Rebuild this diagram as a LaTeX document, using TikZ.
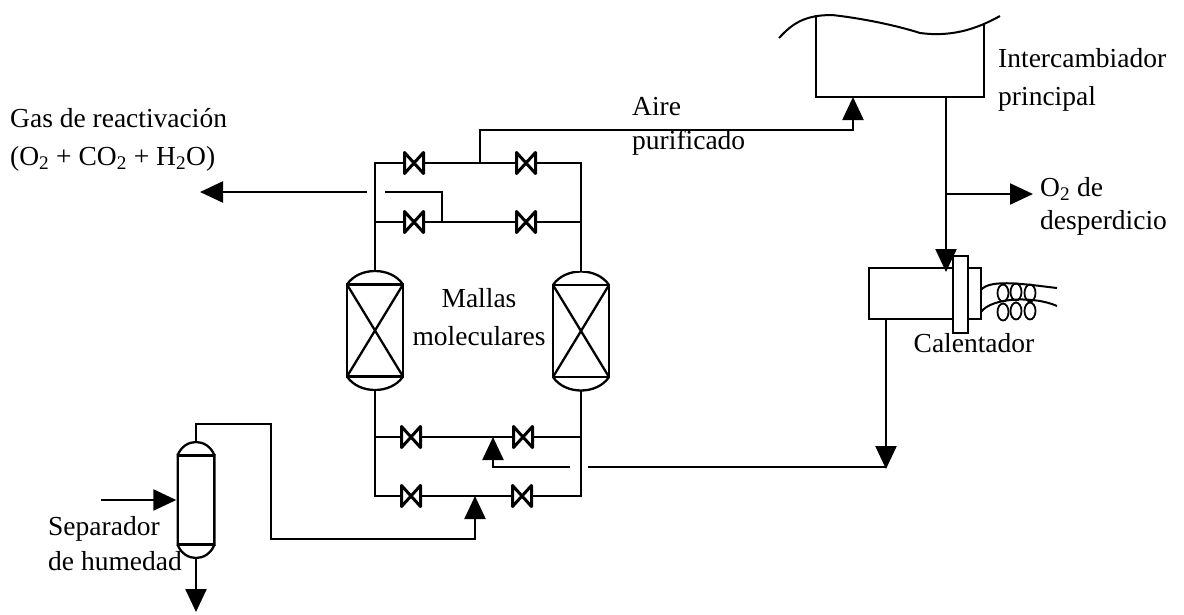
\documentclass[tikz,border=0pt]{standalone}
\usepackage{fontspec}
\setmainfont{Liberation Serif}
\usetikzlibrary{positioning, arrows.meta, calc}
\newcommand{\drumbody}[1]{%
    \draw[pipe] ([shift={(1pt,-14pt)}]path picture bounding box.north west) rectangle ([shift={(-1pt,14pt)}]path picture bounding box.south east);
    \draw[pipe] ([shift={(1pt,-14pt)}]path picture bounding box.north west) .. controls ([shift={(#1,4pt)}]path picture bounding box.north west) and ([shift={(-#1,4pt)}]path picture bounding box.north east) .. ([shift={(-1pt,-14pt)}]path picture bounding box.north east);
    \draw[pipe] ([shift={(1pt,14pt)}]path picture bounding box.south west) .. controls ([shift={(#1,-4pt)}]path picture bounding box.south west) and ([shift={(-#1,-4pt)}]path picture bounding box.south east) .. ([shift={(-1pt,14pt)}]path picture bounding box.south east);}
\tikzset{
  pipe/.style={line width=2.3pt, line join=miter},
  flow/.style={pipe, -{Triangle[length=23pt, width=21pt]}},
  lbl/.style={font=\fontsize{27.5}{38}\selectfont, inner sep=0pt, align=left, anchor=west},
  valve/.style={minimum width=22pt, minimum height=24pt, inner sep=0pt, path picture={
    \draw[line width=3pt, line join=round] ([shift={(1.5pt,-1.5pt)}]path picture bounding box.north west) -- ([shift={(-1.5pt,1.5pt)}]path picture bounding box.south east) -- ([shift={(-1.5pt,-1.5pt)}]path picture bounding box.north east) -- ([shift={(1.5pt,1.5pt)}]path picture bounding box.south west) -- cycle;}},
  drum/.style={inner sep=0pt, minimum width=39pt, minimum height=117pt, path picture={\drumbody{8pt}}},
  vessel/.style={inner sep=0pt, minimum width=58pt, minimum height=120pt, path picture={
    \drumbody{13pt}
    \draw[pipe] ([shift={(1pt,-14pt)}]path picture bounding box.north west) -- ([shift={(-1pt,14pt)}]path picture bounding box.south east);
    \draw[pipe] ([shift={(-1pt,-14pt)}]path picture bounding box.north east) -- ([shift={(1pt,14pt)}]path picture bounding box.south west);}}
}
\begin{document}
\begin{tikzpicture}[x=1pt, y=-1pt]
  \useasboundingbox (0,0) rectangle (1184,614);
  % valves
  \node[valve] (v11) at (414,163) {};
  \node[valve] (v12) at (526,163) {};
  \node[valve] (v21) at (414,222) {};
  \node[valve] (v22) at (526,222) {};
  \node[valve] (v31) at (411,437) {};
  \node[valve] (v32) at (523,437) {};
  \node[valve] (v41) at (411,496) {};
  \node[valve] (v42) at (522,496) {};
  % vessels
  \node[vessel] (bedl) at (375,330.5) {};
  \node[vessel] (bedr) at (581,331) {};
  \node[drum] (sep) at (196,500) {};
  % exchanger and heater
  \coordinate (exl) at (816,15);
  \coordinate (exr) at (984,24);
  \coordinate (exb) at (946,97);
  \coordinate (exa) at (853,97);
  \draw[pipe] (exl) |- (984,97) -- (exr);
  \draw[line width=2pt] (779,38) .. controls (792,24) and (804,15) .. (832,15) .. controls (860,18) and (895,25) .. (920,33) .. controls (950,37) and (975,30) .. (1000,16);
  \node[draw, line width=2.3pt, minimum width=84pt, minimum height=51pt, inner sep=0pt] (heater) at (911,293.5) {};
  \node[draw, line width=2.3pt, minimum width=15pt, minimum height=77pt, inner sep=0pt, fill=white] (flange) at (960.5,294.5) {};
  \node[draw, line width=2.3pt, minimum width=13pt, minimum height=51pt, inner sep=0pt] (tail) at (974.5,293.5) {};
  \draw[line width=2pt] (981,290) .. controls (990,278) and (1030,285) .. (1057,288);
  \draw[line width=2pt] (981,312) .. controls (992,297) and (1035,296) .. (1057,306);
  \foreach \cx/\cy in {1003/293, 1016/292, 1030/293, 1003/312, 1016/311, 1030/311}
    \draw[line width=1.8pt] (\cx,\cy) ellipse (5.5 and 8.5);
  % top pipes
  \coordinate (tl) at (375,163);
  \coordinate (tr) at (581,163);
  \coordinate (ml) at (375,222);
  \coordinate (mr) at (581,222);
  \coordinate (jair) at (480,163);
  \coordinate (jmid) at (442,222);
  \coordinate (gasgap) at (385,192);
  \coordinate (gasend) at (367,192);
  \coordinate (gastip) at (200,192);
  \draw[pipe] (bedl) -- (ml) -- (tl) -- (v11) -- (v12) -- (tr) -- (mr) -- (bedr);
  \draw[pipe] (ml) -- (v21) -- (v22) -- (mr);
  \draw[pipe] (jmid) |- (gasgap);
  \draw[flow] (gasend) -- (gastip);
  \draw[flow] (jair) |- (853,130) -- (exa);
  % bottom pipes
  \coordinate (bl3) at (375,437);
  \coordinate (br3) at (581,437);
  \coordinate (bl4) at (375,496);
  \coordinate (br4) at (581,496);
  \coordinate (jreg) at (493,437);
  \coordinate (jfeed) at (475,496);
  \draw[pipe] (bedl) -- (bl3) -- (bl4) -- (v41) -- (v42) -- (br4) -- (br3) -- (bedr);
  \draw[pipe] (bl3) -- (v31) -- (v32) -- (br3);
  \coordinate (hdown) at (886,469);
  \coordinate (hjoin) at (886,467);
  \coordinate (retgap) at (588,467);
  \coordinate (retend) at (570,467);
  \draw[flow] (heater.south -| hdown) -- (hdown);
  \draw[pipe] (hjoin) -- (retgap);
  \draw[flow] (retend) -| (jreg);
  % separator
  \coordinate (sepin) at (101,500);
  \coordinate (sepout) at (196,612);
  \draw[flow] (sepin) -- (sep.west);
  \draw[flow] (sep.south) -- (sepout);
  \draw[flow] (sep.north) |- (271,424) |- (475,539) -- (jfeed);
  % exchanger outlet
  \coordinate (hin) at (946,272);
  \coordinate (jwaste) at (946,194);
  \coordinate (wastetip) at (1033,194);
  \draw[flow] (exb) -- (hin);
  \draw[flow] (jwaste) -- (wastetip);
  % labels
  \node[lbl] (gaslbl) at (10,140) {Gas de reactivación\\(O\textsubscript{2} + CO\textsubscript{2} + H\textsubscript{2}O)};
  \node[lbl] (airelbl) at (632,126) {Aire\\[-4pt]purificado};
  \node[lbl] (intlbl) at (998,80) {Intercambiador\\principal};
  \node[lbl] (wastelbl) at (1040,206) {O\textsubscript{2} de\\[-5pt]desperdicio};
  \node[lbl, anchor=center, align=center] (mallas) at (479,317) {Mallas\\moleculares};
  \node[lbl, anchor=center] (callbl) at (974,343) {Calentador};
  \node[lbl] (seplbl) at (48,544) {Separador\\[-3pt]de humedad};
\end{tikzpicture}
\end{document}
